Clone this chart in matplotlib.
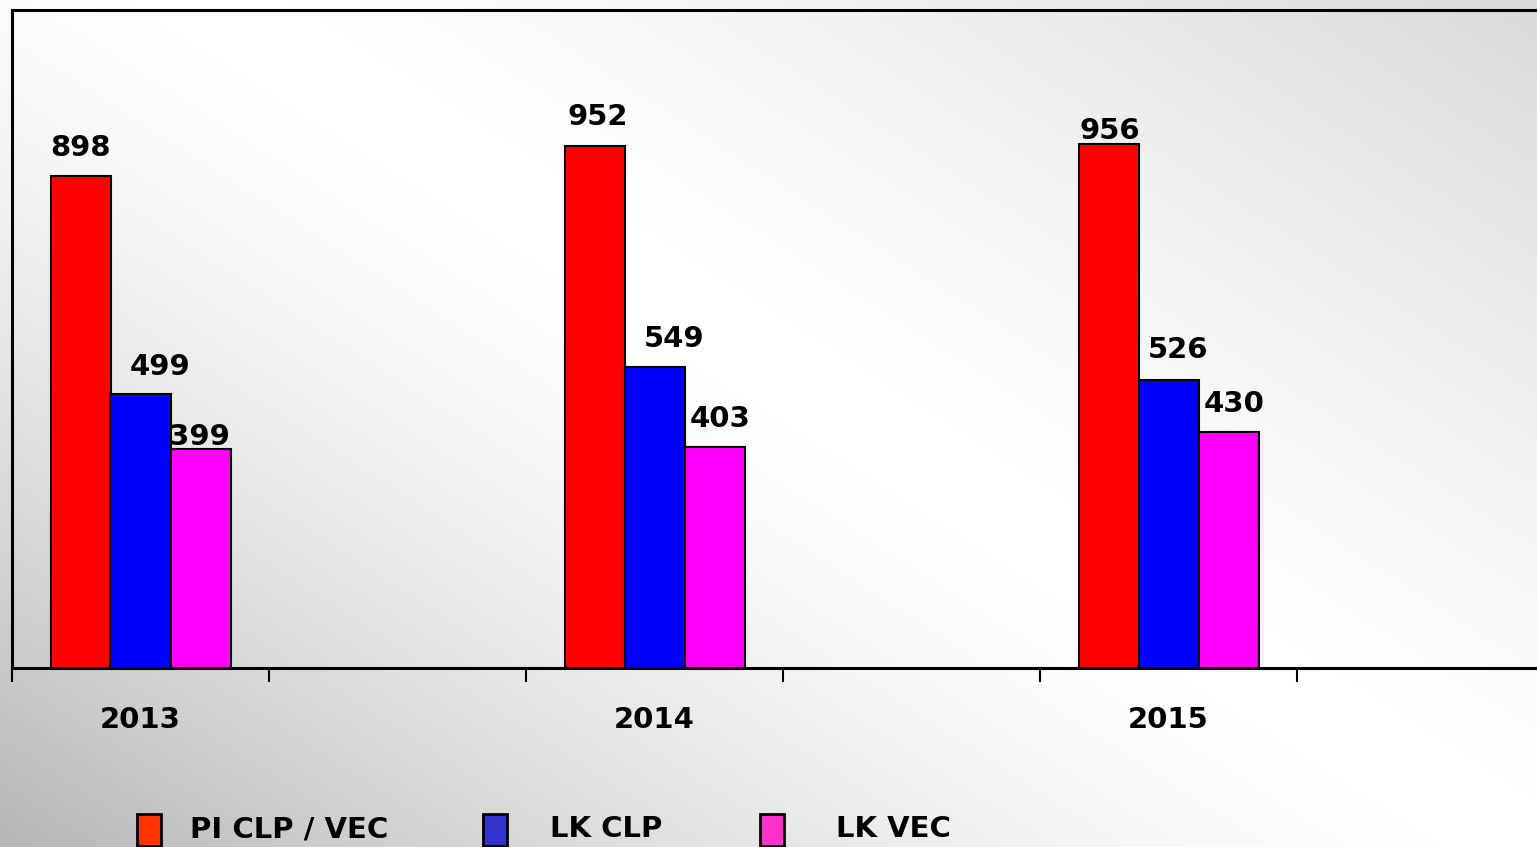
import numpy as np
import matplotlib
matplotlib.use("Agg")
import matplotlib.pyplot as plt
from matplotlib.patches import Rectangle

years = ["2013", "2014", "2015"]
series_names = ["PI CLP / VEC", "LK CLP", "LK VEC"]
pi_clp_vec = [898, 952, 956]
lk_clp = [499, 549, 526]
lk_vec = [399, 403, 430]

bar_colors = ["#FF0000", "#0000FF", "#FF00FF"]
legend_colors = ["#FF3300", "#3333CC", "#FF33CC"]

# label offsets (points) to mimic the original placement
label_dx = [[0, 2, 1], [14, 14, 7], [-1, 4, 4]]
label_dy = [[20, 21, 9], [20, 20, 21], [9, 20, 20]]

W, H = 1537, 847
fig = plt.figure(figsize=(W / 100, H / 100), dpi=100)

# gray/white gradient background: white band running from upper-middle to lower-right
bg = fig.add_axes([0, 0, 1, 1], zorder=-10)
py, px = np.mgrid[0:H:4, 0:W:4].astype(float)
d = (0.64 * (px - 600) - (py - 250)) / 1.187
vals = np.where(d < 0, 1.0 - 0.29 * np.clip(-d / 826, 0, 1) ** 1.5,
                1.0 - 0.15 * np.clip(d / 716, 0, 1) ** 1.3)
bg.imshow(vals, cmap="gray", vmin=0, vmax=1, origin="upper",
          extent=[0, 1, 0, 1], aspect="auto", interpolation="bilinear")
bg.set_axis_off()

ax = fig.add_axes([12 / W, 1 - 668 / H, 1542 / W, 658 / H])
ax.set_facecolor("none")

n_slots = 6
centers = np.array([0.5, 2.5, 4.5])
bw = 60 / 257
data = [pi_clp_vec, lk_clp, lk_vec]
for i, vals_s in enumerate(data):
    xs = centers + (i - 1) * bw
    bars = ax.bar(xs, vals_s, width=bw, color=bar_colors[i],
                  edgecolor="black", linewidth=1.5, zorder=3)
    for j, b in enumerate(bars):
        ax.annotate(str(vals_s[j]), (b.get_x() + b.get_width() / 2, b.get_height()),
                    xytext=(label_dx[i][j], label_dy[i][j]), textcoords="offset points",
                    ha="center", va="center", fontsize=21, fontweight="bold",
                    color="black", zorder=4)

ax.set_xlim(0, n_slots)
ax.set_ylim(0, 1200)
ax.set_xticks(np.arange(0, n_slots + 1))
ax.set_xticklabels([])
ax.set_xticks(centers, minor=True)
ax.set_xticklabels(years, minor=True, fontsize=21, fontweight="bold")
ax.tick_params(axis="x", which="major", direction="out", length=10, width=1.5, color="black")
ax.tick_params(axis="x", which="minor", length=0, pad=27)
ax.set_yticks([])
for s in ["left", "top", "bottom"]:
    ax.spines[s].set_linewidth(2.2)
    ax.spines[s].set_color("black")
ax.spines["right"].set_visible(False)

# legend along the bottom edge
legend_x = [137, 483, 760]
text_x = [190, 550, 836]
for k in range(3):
    fig.add_artist(Rectangle((legend_x[k] / W, (H - 846) / H), 24 / W, 32 / H,
                             transform=fig.transFigure, facecolor=legend_colors[k],
                             edgecolor="black", linewidth=2))
    fig.text(text_x[k] / W, (H - 829) / H, series_names[k], fontsize=21,
             fontweight="bold", ha="left", va="center")

fig.savefig("out.png", dpi=100)
